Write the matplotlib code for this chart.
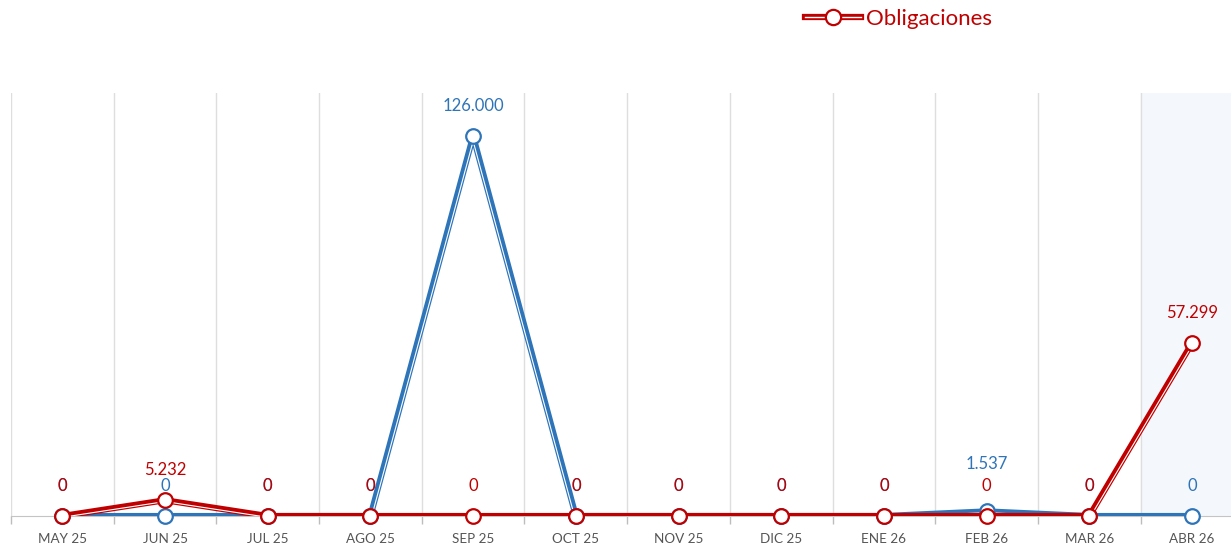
import numpy as np
import matplotlib.pyplot as plt
import matplotlib.transforms as mtransforms
from matplotlib.lines import Line2D
from matplotlib.legend_handler import HandlerTuple

plt.rcParams['font.family'] = ['Lato', 'DejaVu Sans']

months = ['MAY 25', 'JUN 25', 'JUL 25', 'AGO 25', 'SEP 25', 'OCT 25',
          'NOV 25', 'DIC 25', 'ENE 26', 'FEB 26', 'MAR 26', 'ABR 26']
blue_vals = [0, 0, 0, 0, 126000, 0, 0, 0, 0, 1537, 0, 0]
red_vals = [0, 5232, 0, 0, 0, 0, 0, 0, 0, 0, 0, 57299]
blue_labels = ['0', '0', '0', '0', '126.000', '0', '0', '0', '0', '1.537', '0', '0']
red_labels = ['0', '5.232', '0', '0', '0', '0', '0', '0', '0', '0', '0', '57.299']

BLUE = '#2e74b8'
RED = '#c00000'

fig = plt.figure(figsize=(12.31, 5.51), dpi=100)
ax = fig.add_axes([11 / 1231, 35 / 551, 1220 / 1231, 423 / 551])
x = np.arange(len(months))

# grid on category boundaries
bounds = np.arange(-0.5, len(months), 1.0)
ax.set_xticks(x)
ax.set_xticklabels(months)
ax.set_xticks(bounds, minor=True)
ax.grid(which='minor', axis='x', color='#dedede', lw=1)
ax.tick_params(axis='x', which='major', length=0, pad=12, labelsize=9.7, labelcolor='#555555')
ax.tick_params(axis='x', which='minor', length=6, color='#bdbdbd', width=1)
ax.set_yticks([])
for s in ['top', 'right', 'left']:
    ax.spines[s].set_visible(False)
ax.spines['bottom'].set_color('#c4c4c4')
ax.set_axisbelow(True)

# current month band
ax.axvspan(10.5, 11.5, color='#f4f8fd', zorder=0)

ax.set_xlim(-0.5, 11.38)
ax.set_ylim(0, 140300)

LABEL_OFF = 30  # px above point


def draw_series(vals, color, z):
    ax.plot(x, vals, color=color, lw=4.4, zorder=z, solid_joinstyle='round')
    # thin white inner stroke, shifted to the right-hand side of each segment
    for i in range(len(x) - 1):
        p = ax.transData.transform([[x[i], vals[i]], [x[i + 1], vals[i + 1]]])
        d = p[1] - p[0]
        n = np.array([d[1], -d[0]]) / np.hypot(*d)
        tr = ax.transData + mtransforms.Affine2D().translate(*(n * 1.3))
        ax.plot(x[i:i + 2], vals[i:i + 2], color='white', lw=0.8,
                transform=tr, zorder=z + 0.1)
    ax.plot(x, vals, 'o', ms=10.5, mfc='white', mec=color, mew=1.6,
            clip_on=False, zorder=z + 0.2)


def put_labels(vals, labels, color, z, other_vals=None):
    for i, (xi, v, lbl) in enumerate(zip(x, vals, labels)):
        off = LABEL_OFF
        if other_vals is not None and other_vals[i] != v:
            y_me = ax.transData.transform((xi, v))[1] + LABEL_OFF
            y_other = ax.transData.transform((xi, other_vals[i]))[1] + LABEL_OFF
            if abs(y_me - y_other) < 10:
                off = y_other + 22 - y_me + LABEL_OFF
        ax.annotate(lbl, (xi, v), xytext=(0, off * 0.72), textcoords='offset points',
                    ha='center', va='center', fontsize=12, color=color,
                    zorder=z + 0.3, annotation_clip=False)


draw_series(blue_vals, BLUE, 3)
draw_series(red_vals, RED, 4)
put_labels(blue_vals, blue_labels, BLUE, 3, other_vals=red_vals)
put_labels(red_vals, red_labels, RED, 4)

h_line = Line2D([], [], color=RED, lw=4.5)
h_white = Line2D([], [], color='white', lw=1)
h_mark = Line2D([], [], ls='none', marker='o', ms=11, mfc='white', mec=RED, mew=1.6)
fig.legend(handles=[(h_line, h_white, h_mark)], labels=['Obligaciones'],
           handler_map={tuple: HandlerTuple(ndivide=1, pad=0)},
           loc='center left', bbox_to_anchor=(805 / 1231, 1 - 19 / 551),
           frameon=False, fontsize=16, labelcolor=RED, handlelength=2.5,
           handletextpad=0.25, borderpad=0, borderaxespad=0)

fig.savefig('out.png', dpi=100)
